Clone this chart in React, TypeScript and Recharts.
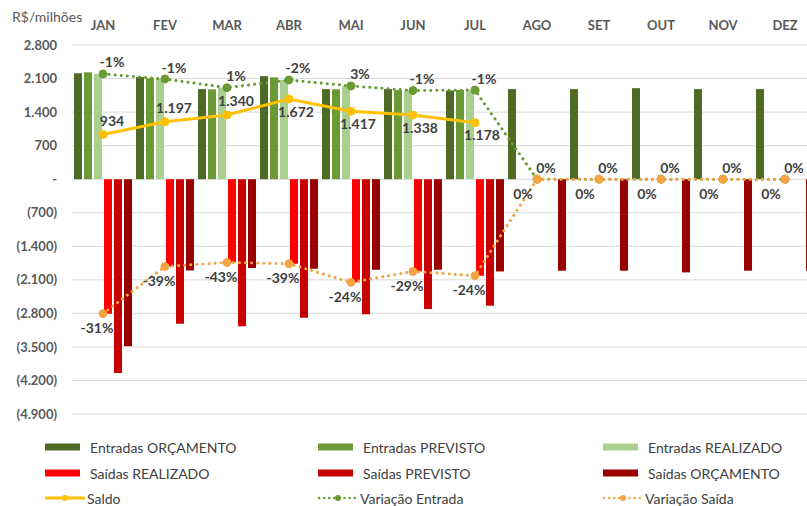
import { ComposedChart, Bar, Line, XAxis, YAxis, CartesianGrid, LabelList } from "recharts";

// valores em R$ milhões
const months = ["JAN", "FEV", "MAR", "ABR", "MAI", "JUN", "JUL", "AGO", "SET", "OUT", "NOV", "DEZ"];

const entradasOrcamento = [2210, 2130, 1880, 2150, 1880, 1880, 1850, 1880, 1880, 1900, 1880, 1880];
const entradasPrevisto = [2230, 2105, 1875, 2125, 1875, 1860, 1860, 0, 0, 0, 0, 0];
const entradasRealizado = [2195, 2090, 1910, 2070, 1945, 1850, 1860, 0, 0, 0, 0, 0];

const saidasRealizado = [-2806, -1821, -1738, -1765, -2153, -1925, -2015, 0, 0, 0, 0, 0];
const saidasPrevisto = [-4044, -3016, -3071, -2890, -2820, -2710, -2640, 0, 0, 0, 0, 0];
const saidasOrcamento = [-3488, -1905, -1855, -1869, -1890, -1890, -1925, -1910, -1910, -1945, -1910, -1910];

const saldo = [934, 1197, 1340, 1672, 1417, 1338, 1178, null, null, null, null, null];

// variações em %, mostradas como rótulos sobre as linhas
const variacaoEntrada = [-1, -1, 1, -2, 3, -1, -1, 0, 0, 0, 0, 0];
const variacaoSaida = [-31, -39, -43, -39, -24, -29, -24, 0, 0, 0, 0, 0];

const yTicks = [2800, 2100, 1400, 700, 0, -700, -1400, -2100, -2800, -3500, -4200, -4900];

const data = months.map((month, i) => ({
  month,
  entradasOrcamento: entradasOrcamento[i],
  entradasPrevisto: entradasPrevisto[i],
  entradasRealizado: entradasRealizado[i],
  saidasRealizado: saidasRealizado[i],
  saidasPrevisto: saidasPrevisto[i],
  saidasOrcamento: saidasOrcamento[i],
  saldo: saldo[i],
  variacaoEntrada: variacaoEntrada[i],
  variacaoSaida: variacaoSaida[i],
}));

const FONT = "Lato, 'Open Sans', sans-serif";
const AXIS_GRAY = "#595959";
const LABEL_GRAY = "#404040";

const C = {
  entOrc: "#4E6B25",
  entPrev: "#6A9A34",
  entReal: "#A9D08E",
  saiReal: "#FF0000",
  saiPrev: "#C80000",
  saiOrc: "#990000",
  saldo: "#FFC000",
  varEnt: "#6A9A34",
  varSai: "#F4A442",
};

const thousands = (v: number) => String(Math.round(v)).replace(/\B(?=(\d{3})+(?!\d))/g, ".");
const yFormat = (v: number) => (v === 0 ? "-" : v < 0 ? `(${thousands(-v)})` : thousands(v));

const labelText = (x: number, y: number, text: string) => (
  <text
    x={x}
    y={y}
    textAnchor="middle"
    dominantBaseline="central"
    fontFamily={FONT}
    fontSize={14}
    fontWeight={700}
    fill={LABEL_GRAY}
  >
    {text}
  </text>
);

const SaldoLabel = (props: any) => {
  const { x, y, value, index } = props;
  if (value == null || x == null) return null;
  const above = index < 3;
  return labelText(x + (above ? 9 : 7), y + (above ? -14 : 12), thousands(value));
};

const VarEntradaLabel = (props: any) => {
  const { x, y, value } = props;
  if (value == null || x == null) return null;
  return labelText(x + 9, y - 12, `${value}%`);
};

const VarSaidaLabel = (props: any) => {
  const { x, y, value } = props;
  if (value == null || x == null) return null;
  return labelText(x + (value === 0 ? -14 : -6), y + 14, `${value}%`);
};

const legendRows = [
  [
    { name: "Entradas ORÇAMENTO", color: C.entOrc, kind: "box" },
    { name: "Entradas PREVISTO", color: C.entPrev, kind: "box" },
    { name: "Entradas REALIZADO", color: C.entReal, kind: "box" },
  ],
  [
    { name: "Saídas REALIZADO", color: C.saiReal, kind: "box" },
    { name: "Saídas PREVISTO", color: C.saiPrev, kind: "box" },
    { name: "Saídas ORÇAMENTO", color: C.saiOrc, kind: "box" },
  ],
  [
    { name: "Saldo", color: C.saldo, kind: "line" },
    { name: "Variação Entrada", color: C.varEnt, kind: "dots" },
    { name: "Variação Saída", color: C.varSai, kind: "dots" },
  ],
];
const legendCols = [45, 318, 603];
const legendRowsY = [447, 473, 498];

function LegendSymbol({ kind, color }: { kind: string; color: string }) {
  if (kind === "box") {
    return (
      <svg width={36} height={10}>
        <rect x={0} y={1.5} width={35} height={7} fill={color} />
      </svg>
    );
  }
  return (
    <svg width={40} height={10}>
      <line
        x1={1}
        y1={5}
        x2={39}
        y2={5}
        stroke={color}
        strokeWidth={kind === "line" ? 3 : 2.5}
        strokeDasharray={kind === "line" ? undefined : "0.1 5"}
        strokeLinecap="round"
      />
      <circle cx={20} cy={5} r={3} fill={color} />
    </svg>
  );
}

export default function App() {
  return (
    <div
      style={{
        position: "fixed",
        left: 0,
        top: 0,
        width: 807,
        height: 506,
        overflow: "hidden",
        background: "#fff",
        fontFamily: FONT,
      }}
    >
      <div style={{ position: "absolute", left: 12, top: 8, fontSize: 14, color: AXIS_GRAY }}>R$/milhões</div>

      <ComposedChart
        width={830}
        height={430}
        data={data}
        margin={{ top: 15, right: 14, bottom: 16, left: 0 }}
        barCategoryGap={2}
        barGap={2}
      >
        <CartesianGrid vertical={false} stroke="#D9D9D9" />
        <XAxis
          dataKey="month"
          orientation="top"
          height={30}
          axisLine={false}
          tickLine={false}
          tickMargin={9}
          tick={{ fontFamily: FONT, fontSize: 13, fontWeight: 700, fill: AXIS_GRAY }}
        />
        <YAxis
          width={72}
          domain={[-4900, 2800]}
          ticks={yTicks}
          interval={0}
          axisLine={false}
          tickLine={false}
          tickMargin={9}
          tickFormatter={yFormat}
          tick={{ fontFamily: FONT, fontSize: 13, fontWeight: 700, fill: AXIS_GRAY }}
        />

        <Bar dataKey="entradasOrcamento" fill={C.entOrc} isAnimationActive={false} />
        <Bar dataKey="entradasPrevisto" fill={C.entPrev} isAnimationActive={false} />
        <Bar dataKey="entradasRealizado" fill={C.entReal} isAnimationActive={false} />
        <Bar dataKey="saidasRealizado" fill={C.saiReal} isAnimationActive={false} />
        <Bar dataKey="saidasPrevisto" fill={C.saiPrev} isAnimationActive={false} />
        <Bar dataKey="saidasOrcamento" fill={C.saiOrc} isAnimationActive={false} />

        <Line
          dataKey="saldo"
          stroke={C.saldo}
          strokeWidth={3}
          dot={{ r: 4, fill: C.saldo, stroke: C.saldo, strokeWidth: 1 }}
          isAnimationActive={false}
        >
          <LabelList dataKey="saldo" content={SaldoLabel} />
        </Line>
        <Line
          dataKey="entradasRealizado"
          stroke={C.varEnt}
          strokeWidth={3}
          strokeDasharray="0.1 6"
          strokeLinecap="round"
          dot={{ r: 4, fill: C.varEnt, stroke: C.varEnt, strokeWidth: 1, strokeDasharray: "0" }}
          isAnimationActive={false}
        >
          <LabelList dataKey="variacaoEntrada" content={VarEntradaLabel} />
        </Line>
        <Line
          dataKey="saidasRealizado"
          stroke={C.varSai}
          strokeWidth={3}
          strokeDasharray="0.1 6"
          strokeLinecap="round"
          dot={{ r: 4, fill: C.varSai, stroke: C.varSai, strokeWidth: 1, strokeDasharray: "0" }}
          isAnimationActive={false}
        >
          <LabelList dataKey="variacaoSaida" content={VarSaidaLabel} />
        </Line>
      </ComposedChart>

      {legendRows.map((row, r) =>
        row.map((item, c) => (
          <div
            key={item.name}
            style={{
              position: "absolute",
              left: legendCols[c],
              top: legendRowsY[r] - 10,
              height: 20,
              display: "flex",
              alignItems: "center",
              gap: item.kind === "box" ? 9 : 2,
              fontSize: 14,
              color: LABEL_GRAY,
              whiteSpace: "nowrap",
            }}
          >
            <LegendSymbol kind={item.kind} color={item.color} />
            <span>{item.name}</span>
          </div>
        ))
      )}
    </div>
  );
}
